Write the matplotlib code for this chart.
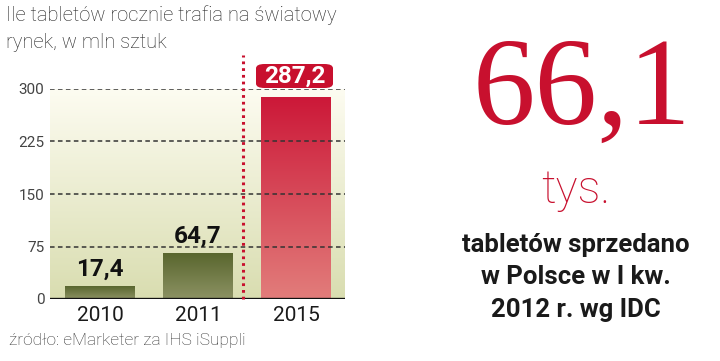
import numpy as np
import matplotlib.pyplot as plt
from matplotlib.colors import LinearSegmentedColormap
from matplotlib.patches import FancyBboxPatch

# ── data ------------------------------------------------------------------- #
years = ["2010", "2011", "2015"]
values = [17.4, 64.7, 287.2]
labels = ["17,4", "64,7", "287,2"]
yticks = [0, 75, 150, 225, 300]

RED = "#c8102e"
W, H = 720, 361

fig = plt.figure(figsize=(7.2, 3.61), dpi=100)
fig.patch.set_facecolor("white")

def px(x, y):
    # pixel (top-left origin) -> figure fraction
    return x / W, 1 - y / H

# plot area: x 50..345 px, y 89..299 px
ax = fig.add_axes([50 / W, (H - 299) / H, 295 / W, 210 / H])
xmin, xmax = -0.51, 2.5
ax.set_xlim(xmin, xmax)
ax.set_ylim(0, 300)
for s in ax.spines.values():
    s.set_visible(False)

# background gradient
bg = LinearSegmentedColormap.from_list("bg", ["#d9ddb0", "#fdfcf1"])
grad = np.linspace(0, 1, 256).reshape(-1, 1)
ax.imshow(grad, cmap=bg, aspect="auto", extent=[xmin, xmax, 0, 300],
          origin="lower", zorder=0)

# bars with vertical gradients
green = LinearSegmentedColormap.from_list("g", ["#8c9263", "#59662e"])
red = LinearSegmentedColormap.from_list("r", ["#e27d7b", "#cc1838"])
bw = 0.714
for i, v in enumerate(values):
    cm = red if i == 2 else green
    ax.imshow(grad, cmap=cm, aspect="auto", origin="lower",
              extent=[i - bw / 2, i + bw / 2, 0, v], zorder=1)

# dashed grid over bars
for t in yticks[1:]:
    ax.axhline(t, color="#333333", lw=1.1, ls=(0, (3, 2.2)), zorder=2)
ax.axhline(0, color="#111111", lw=2.4, zorder=3)

# dotted divider
ax.plot([1.46, 1.46], [0, 349], color=RED, lw=2.2, ls=(0, (0.9, 1.3)),
        clip_on=False, zorder=3)

ax.set_yticks(yticks)
ax.set_yticklabels([str(t) for t in yticks], fontsize=11, color="#444444",
                   family="Roboto")
ax.tick_params(axis="y", length=0, pad=4)
ax.set_xticks(range(len(years)))
ax.set_xticklabels(years, fontsize=15, color="#1a1a1a", family="Roboto")
ax.tick_params(axis="x", length=0, pad=5)

for i in range(2):
    ax.text(i, values[i] + 8, labels[i], ha="center", va="bottom",
            fontsize=17.5, fontweight="bold", family="Roboto", color="#111111",
            zorder=4)

# 2015 label in red rounded box
bx0, by0 = px(256, 88)
bx1, by1 = px(333, 64)
box = FancyBboxPatch((bx0, by0), bx1 - bx0, by1 - by0,
                     boxstyle="round,pad=0,rounding_size=0.012",
                     transform=fig.transFigure, facecolor=RED,
                     edgecolor="none", zorder=5)
fig.patches.append(box)
fig.text((bx0 + bx1) / 2, (by0 + by1) / 2 - 0.002, labels[2], ha="center",
         va="center", fontsize=17.5, fontweight="bold", family="Roboto",
         color="white", zorder=6)

# titles
fig.text(*px(6, 15), "Ile tabletów rocznie trafia na światowy", fontsize=14.5,
         color="#222222", va="center", family="Roboto", fontweight="light")
fig.text(*px(6, 43), "rynek, w mln sztuk", fontsize=14.5, color="#222222",
         va="center", family="Roboto", fontweight="light")
fig.text(*px(9, 341), "źródło: eMarketer za IHS iSuppli", fontsize=12.5,
         color="#333333", va="center", family="Roboto", fontweight="light")

# right block
fig.text(*px(582, 94), "66,1", fontsize=90, color=RED, ha="center",
         va="center", family="Liberation Serif")
fig.text(*px(576, 190), "tys.", fontsize=33, color=RED, ha="center",
         va="center", family="Roboto", fontweight="light")
for yy, line in zip([245, 277, 310], ["tabletów sprzedano", "w Polsce w I kw.",
                                      "2012 r. wg IDC"]):
    fig.text(*px(576, yy), line, fontsize=18.5, color="#1a1a1a", ha="center",
             va="center", family="Roboto", fontweight="bold")

fig.savefig("out.png", dpi=100)
